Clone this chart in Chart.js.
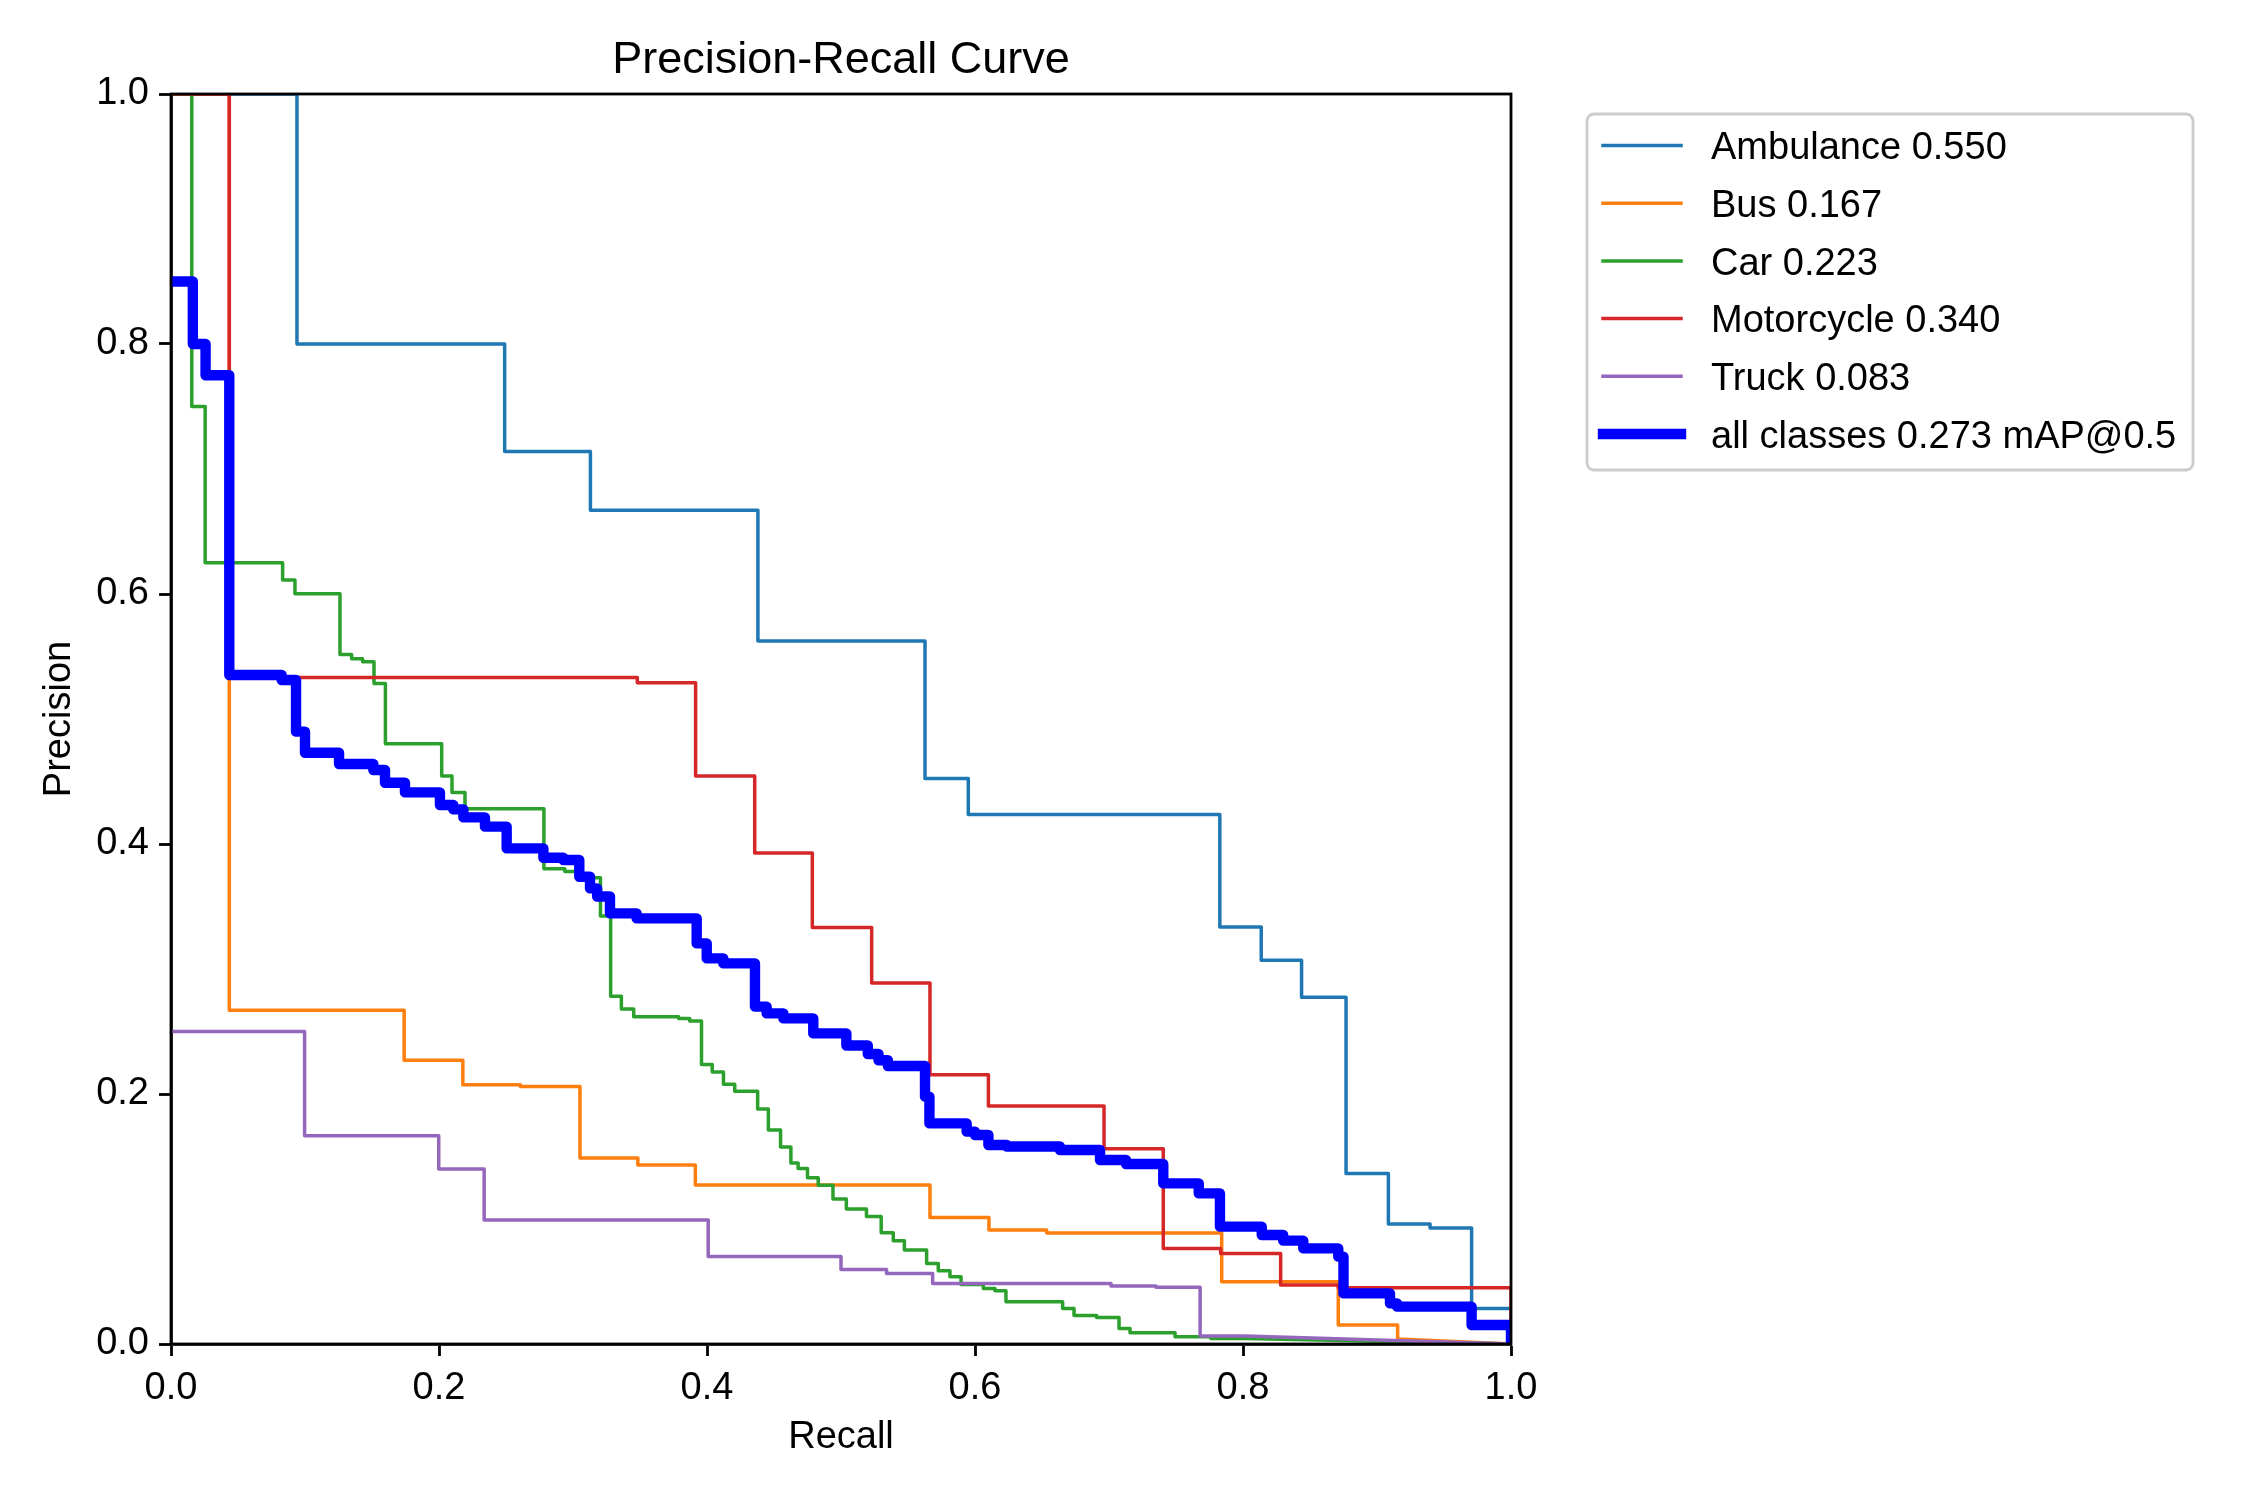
<!DOCTYPE html>
<html>
<head>
<meta charset="utf-8">
<title>Precision-Recall Curve</title>
<script src="https://cdn.jsdelivr.net/npm/chart.js@4.4.1/dist/chart.umd.min.js"></script>
<style>
  body { margin: 0; background: #fff; }
  #grafica { display: block; }
</style>
</head>
<body>
<canvas id="grafica" width="2250" height="1500"></canvas>
<script>
const titulo = "Precision-Recall Curve";
const xLabel = "Recall";
const yLabel = "Precision";
const tickValues = [0, 0.2, 0.4, 0.6, 0.8, 1.0];

const classNames = ["Ambulance", "Bus", "Car", "Motorcycle", "Truck"];
const classAP = ["0.550", "0.167", "0.223", "0.340", "0.083"];
const allLabel = "all classes 0.273 mAP@0.5";

// each pair: recall where the precision drops, and the new precision
const ambulanceRecall = [0, 0.094, 0.249, 0.313, 0.438, 0.5627, 0.595, 0.7827, 0.8136, 0.8437, 0.8769, 0.9085, 0.9396, 0.9706, 1.0];
const ambulancePrecision = [1, 0.800, 0.714, 0.667, 0.5625, 0.4525, 0.4237, 0.3336, 0.307, 0.2774, 0.1365, 0.096, 0.0928, 0.0285, 0];

const busRecall = [0, 0.0435, 0.174, 0.2178, 0.2607, 0.3052, 0.3484, 0.3913, 0.5664, 0.6104, 0.6535, 0.7841, 0.8711, 0.9154, 1.0];
const busPrecision = [1, 0.267, 0.227, 0.2074, 0.206, 0.1488, 0.1432, 0.1272, 0.1013, 0.0912, 0.0888, 0.0499, 0.0152, 0.004, 0];

const carRecall = [0, 0.0155, 0.0255, 0.0833, 0.0925, 0.1261, 0.1348, 0.143, 0.1515, 0.16, 0.202, 0.2097, 0.2194, 0.2783, 0.2939, 0.3026, 0.3205, 0.3281, 0.3361, 0.3453, 0.3788, 0.3871, 0.3959, 0.4039, 0.4123, 0.4207, 0.4378, 0.4458, 0.4549, 0.4626, 0.468, 0.475, 0.483, 0.494, 0.504, 0.519, 0.530, 0.539, 0.5473, 0.5639, 0.5726, 0.5813, 0.5896, 0.6062, 0.6149, 0.6231, 0.6654, 0.6739, 0.6908, 0.7075, 0.7157, 0.7493, 0.776, 0.8015, 1.0];
const carPrecision = [1, 0.75, 0.625, 0.6112, 0.6003, 0.5517, 0.5483, 0.5459, 0.5285, 0.4803, 0.4544, 0.4413, 0.4283, 0.3803, 0.378, 0.373, 0.3425, 0.2782, 0.268, 0.2619, 0.2605, 0.2584, 0.2237, 0.2176, 0.2078, 0.2022, 0.188, 0.1712, 0.1576, 0.1448, 0.1405, 0.133, 0.127, 0.116, 0.108, 0.102, 0.089, 0.0827, 0.0752, 0.0645, 0.0587, 0.0539, 0.0477, 0.0445, 0.0427, 0.0339, 0.0285, 0.0229, 0.0213, 0.0125, 0.009, 0.0059, 0.0045, 0.0045, 0];

const motoRecall = [0, 0.0435, 0.348, 0.3915, 0.4356, 0.4786, 0.5229, 0.5664, 0.610, 0.6963, 0.7405, 0.7833, 0.8281, 0.8711, 1.0];
const motoPrecision = [1, 0.5333, 0.529, 0.4544, 0.3928, 0.3333, 0.2888, 0.2155, 0.1904, 0.1563, 0.0765, 0.0725, 0.0472, 0.045, 0];

const truckRecall = [0, 0.0997, 0.1998, 0.2337, 0.4009, 0.5, 0.534, 0.5684, 0.7015, 0.735, 0.768, 0.8015, 1.0];
const truckPrecision = [0.25, 0.1666, 0.14, 0.0992, 0.0701, 0.0597, 0.0565, 0.0485, 0.0465, 0.0455, 0.0064, 0.0064, 0];

const allRecall = [0, 0.0163, 0.0258, 0.0435, 0.0826, 0.0933, 0.1, 0.1254, 0.151, 0.1597, 0.1746, 0.2007, 0.2107, 0.2182, 0.2343, 0.2505, 0.2779, 0.2928, 0.3047, 0.3127, 0.318, 0.3276, 0.3475, 0.3923, 0.3998, 0.4122, 0.4358, 0.4445, 0.457, 0.4793, 0.504, 0.52, 0.528, 0.535, 0.5627, 0.566, 0.5938, 0.6, 0.61, 0.6238, 0.6634, 0.6933, 0.7127, 0.7405, 0.767, 0.7828, 0.814, 0.830, 0.845, 0.8711, 0.875, 0.9097, 0.915, 0.9706, 1.0];
const allPrecision = [0.85, 0.8, 0.775, 0.5352, 0.5312, 0.4899, 0.473, 0.464, 0.4592, 0.449, 0.4413, 0.4312, 0.4277, 0.4213, 0.4139, 0.3965, 0.389, 0.3872, 0.3738, 0.3645, 0.358, 0.3445, 0.3405, 0.3205, 0.3085, 0.3045, 0.2699, 0.2645, 0.2605, 0.2485, 0.2388, 0.232, 0.227, 0.2224, 0.1979, 0.1765, 0.1699, 0.1672, 0.1592, 0.158, 0.1552, 0.1472, 0.144, 0.1285, 0.1205, 0.0939, 0.0872, 0.0827, 0.0765, 0.0699, 0.0405, 0.0325, 0.0299, 0.0152, 0];

const colores = ["#1f77b4", "#ff7f0e", "#2ca02c", "#d62728", "#9467bd"];

// builds the corner points of a stepped curve; the last segment may be a slope
function escalones(rec, prec, slopedTail) {
    let pts = [{ x: rec[0], y: prec[0] }];
    for (let i = 1; i < rec.length; i++) {
        if (slopedTail && i == rec.length - 1) {
            pts.push({ x: rec[i], y: prec[i] });
            break;
        }
        pts.push({ x: rec[i], y: prec[i - 1] });
        pts.push({ x: rec[i], y: prec[i] });
    }
    return pts;
}

const curvas = [
    escalones(ambulanceRecall, ambulancePrecision, false),
    escalones(busRecall, busPrecision, true),
    escalones(carRecall, carPrecision, true),
    escalones(motoRecall, motoPrecision, false),
    escalones(truckRecall, truckPrecision, true)
];

let datasets = [];
for (let i = 0; i < classNames.length; i++) {
    datasets.push({
        label: classNames[i] + " " + classAP[i],
        data: curvas[i],
        borderColor: colores[i],
        borderWidth: 3.5,
        order: 5 - i
    });
}
datasets.push({
    label: allLabel,
    data: escalones(allRecall, allPrecision, false),
    borderColor: "#0000ff",
    borderWidth: 10.4,
    order: 0
});

const fuente = "'Liberation Sans', Arial, sans-serif";
const tamTexto = 38;

// frame, title and legend like the matplotlib figure
const extras = {
    id: "extras",
    afterDatasetsDraw(chart) {
        const ctx = chart.ctx;
        const a = chart.chartArea;
        ctx.save();
        ctx.strokeStyle = "#000";
        ctx.lineWidth = 2.8;
        ctx.strokeRect(a.left, a.top, a.right - a.left, a.bottom - a.top);

        ctx.fillStyle = "#000";
        ctx.font = "45px " + fuente;
        ctx.textAlign = "center";
        ctx.textBaseline = "alphabetic";
        ctx.fillText(titulo, (a.left + a.right) / 2, a.top - 21);

        const lx = a.right + 76;
        const ly = a.top + 20;
        ctx.beginPath();
        ctx.roundRect(lx, ly, 606, 356, 7);
        ctx.fillStyle = "rgba(255,255,255,0.8)";
        ctx.fill();
        ctx.strokeStyle = "#cccccc";
        ctx.lineWidth = 2.8;
        ctx.stroke();

        ctx.font = tamTexto + "px " + fuente;
        ctx.textAlign = "left";
        for (let i = 0; i < datasets.length; i++) {
            const ds = datasets[i];
            const cy = ly + 31.5 + i * 57.7;
            ctx.beginPath();
            ctx.moveTo(lx + 16, cy);
            ctx.lineTo(lx + 94, cy);
            ctx.strokeStyle = ds.borderColor;
            ctx.lineWidth = ds.borderWidth;
            ctx.lineCap = "square";
            ctx.stroke();
            ctx.fillStyle = "#000";
            ctx.fillText(ds.label, lx + 124, cy + 13.6);
        }
        ctx.restore();
    }
};

Chart.defaults.font.family = fuente;
Chart.defaults.color = "#000";

const ejeComun = {
    type: "linear",
    min: 0,
    max: 1,
    afterBuildTicks: s => { s.ticks = tickValues.map(v => ({ value: v })); },
    ticks: {
        font: { size: tamTexto },
        padding: 10,
        maxRotation: 0,
        autoSkip: false,
        callback: v => v.toFixed(1)
    },
    grid: {
        drawOnChartArea: false,
        drawTicks: true,
        tickLength: 12,
        tickWidth: 2.8,
        tickColor: "#000"
    },
    border: { display: true, color: "#000", width: 2.8 }
};

let myChart = new Chart(document.getElementById("grafica"), {
    type: "line",
    data: { datasets: datasets },
    options: {
        responsive: false,
        animation: false,
        devicePixelRatio: 1,
        layout: { padding: { left: 0, top: 94, right: 739, bottom: 40 } },
        elements: {
            point: { radius: 0 },
            line: { tension: 0, borderJoinStyle: "round", fill: false }
        },
        datasets: { line: { clip: 0 } },
        plugins: {
            legend: { display: false },
            title: { display: false },
            tooltip: { enabled: false }
        },
        scales: {
            x: Object.assign({}, ejeComun, {
                position: "bottom",
                title: { display: true, text: xLabel, font: { size: tamTexto }, padding: { top: 0, bottom: 0 } },
                afterFit: s => { s.height = 116; }
            }),
            y: Object.assign({}, ejeComun, {
                position: "left",
                title: { display: true, text: yLabel, font: { size: tamTexto }, padding: { top: 37, bottom: 0 } },
                afterFit: s => { s.width = 171; }
            })
        }
    },
    plugins: [extras]
});
console.log(myChart.chartArea);
</script>
</body>
</html>
